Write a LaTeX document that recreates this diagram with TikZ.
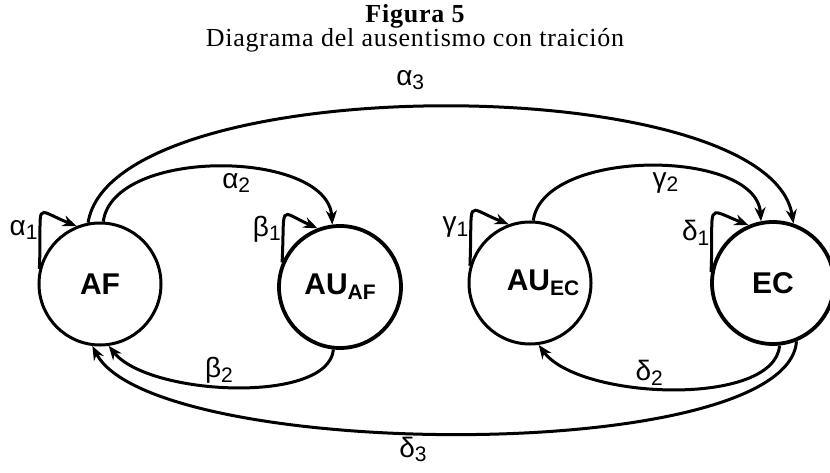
\documentclass[tikz,border=0pt]{standalone}
\usepackage{fontspec}
\setmainfont{Liberation Serif}
\setsansfont{Liberation Sans}
\newfontfamily\capfont[LetterSpace=3]{Liberation Serif}
\usetikzlibrary{arrows.meta}
\newcommand{\lowsub}[2]{\raisebox{-0.3ex}{\fontsize{#1}{#1}\selectfont #2}}

\begin{document}
\begin{tikzpicture}[x=1pt, y=1pt, >={Stealth[length=14pt, width=11pt]},
    state/.style={draw, circle, line width=3pt, minimum size=122pt, inner sep=0pt,
                  font=\fontsize{30}{30}\selectfont\sffamily\bfseries},
    heavy/.style={line width=3.8pt},
    trans/.style={->, line width=3pt},
    rate/.style={font=\fontsize{28}{28}\selectfont\sffamily, inner sep=1pt}]
  \useasboundingbox (0,0) rectangle (830,472);

  % heading
  \node[font=\fontsize{26}{26}\selectfont\capfont\bfseries] (title) at (415,456) {Figura 5};
  \node[font=\fontsize{26}{26}\selectfont\capfont] (subtitle) at (415,432)
    {Diagrama del ausentismo con traición};

  % states
  \node[state] (AF) at (100,188) {AF};
  \node[state, heavy] (AUAF) at (340,185) {AU\lowsub{21}{AF}};
  \node[state] (AUEC) at (530,189) {\hspace*{26pt}AU\lowsub{21}{EC}};
  \node[state, heavy] (EC) at (773,189) {EC};

  % self loops
  \draw[trans] (AF.166) .. controls +(3,70) and +(-45,18) ..
    node[rate, pos=0.25, left] (a1) {α\lowsub{21}{1}} (AF.112);
  \draw[trans] (AUAF.157) .. controls +(3,60) and +(-40,18) ..
    node[rate, pos=0.25, left] (b1) {β\lowsub{21}{1}} (AUAF.111);
  \draw[trans] (AUEC.164) .. controls +(3,70) and +(-45,18) ..
    node[rate, pos=0.25, left] (g1) {γ\lowsub{21}{1}} (AUEC.110);
  \draw[trans] (EC.170) .. controls +(3,70) and +(-45,18) ..
    node[rate, pos=0.25, left] (d1) {δ\lowsub{21}{1}} (EC.113);

  % upper arcs
  \draw[trans] (AF.101) .. controls +(25,155) and +(-25,155) ..
    node[rate, pos=0.47, above=15pt] (a3) {α\lowsub{21}{3}} (EC.71);
  \draw[trans] (AF.87) .. controls +(10,75) and +(-5,75) ..
    node[rate, pos=0.55, below=3pt] (a2) {α\lowsub{21}{2}} (AUAF.97);
  \draw[trans] (AUEC.87) .. controls +(10,73) and +(-5,73) ..
    node[rate, pos=0.55, below=3pt] (g2) {γ\lowsub{21}{2}} (EC.101);

  % lower arcs
  \draw[trans] (AUAF.264) .. controls +(-5,-55) and +(40,-50) ..
    node[rate, pos=0.55, above=0pt] (b2) {β\lowsub{21}{2}} (AF.278);
  \draw[trans] (EC.276) .. controls +(-5,-62) and +(40,-55) ..
    node[rate, pos=0.57, above=0pt] (d2) {δ\lowsub{21}{2}} (AUEC.278);
  \draw[trans] (EC.292) .. controls +(-10,-125) and +(60,-115) ..
    node[rate, pos=0.55, below=2pt] (d3) {δ\lowsub{21}{3}} (AF.263);
\end{tikzpicture}
\end{document}
